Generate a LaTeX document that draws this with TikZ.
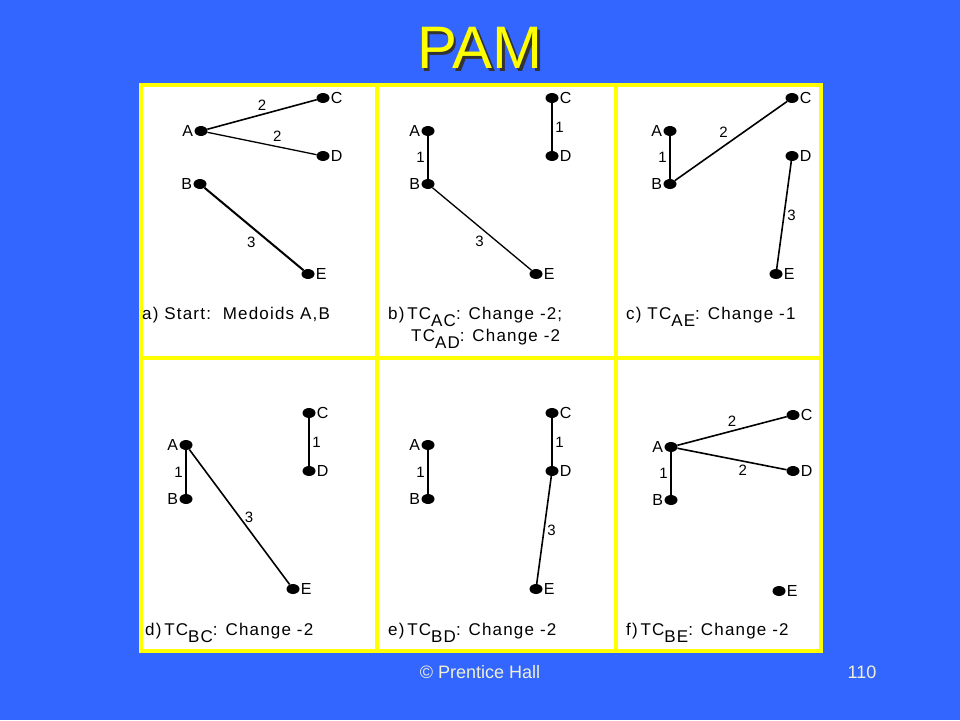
\documentclass[tikz,border=0pt]{standalone}
\usepackage{fontspec}
\setmainfont{Liberation Sans}
\newfontfamily\capfont[LetterSpace=7]{Liberation Sans}
\usetikzlibrary{positioning,shapes.geometric}
\definecolor{slidebg}{RGB}{51,102,255}
\definecolor{pamyel}{RGB}{255,255,0}
\definecolor{footc}{RGB}{240,240,215}
\newcommand{\subtc}[1]{\raisebox{-0.8ex}{#1}}

\begin{document}
\begin{tikzpicture}[x=1pt,y=-1pt,every label/.append style={font=\fontsize{16}{18}\selectfont,inner sep=1pt}]
\tikzstyle{pt}=[ellipse,fill=black,minimum width=13pt,minimum height=10pt,inner sep=0pt,label distance=5pt];
\tikzstyle{edge}=[line width=1.6pt,black];
\tikzstyle{wt}=[font=\fontsize{15}{17}\selectfont,inner sep=2.5pt];
\tikzstyle{capt}=[anchor=base west,font=\capfont\fontsize{17}{21}\selectfont,inner sep=0pt];
\tikzstyle{ttl}=[font=\fontsize{60}{70}\selectfont,text=pamyel];
\tikzstyle{foot}=[font=\fontsize{18}{21}\selectfont,text=footc];

% slide
\fill[slidebg] (0,0) rectangle (960,720);
\node[ttl,text=black!80] at (482.5,50.5) {PAM};
\node[ttl] (title) at (480,48) {PAM};
\node[foot] (copy) at (480,672) {© Prentice Hall};
\node[foot] (pgno) at (862,672) {110};

% panels
\fill[white] (141,85) rectangle (821,651);
\draw[pamyel,line width=4pt] (141,85) rectangle (821,651);
\foreach \x in {377,616}
  \draw[pamyel,line width=4pt] (\x,85) -- (\x,651);
\draw[pamyel,line width=4pt] (141,358) -- (821,358);

% a) start
\node[pt,label=left:A] (aA) at (201,131) {};
\node[pt,label=left:B] (aB) at (200,184) {};
\node[pt,label=right:C] (aC) at (323,98) {};
\node[pt,label=right:D] (aD) at (323,156) {};
\node[pt,label=right:E] (aE) at (308,274) {};
\draw[edge] (aA) -- node[wt,above=1pt] {2} (aC);
\draw[edge,line width=1.3pt] (aA) -- node[wt,pos=0.64,above=2pt] {2} (aD);
\draw[edge,line width=2pt] (aB) -- node[wt,pos=0.55,below left] {3} (aE);
\node[capt] (capa) at (142,319) {a) Start:\ \ Medoids A,B};

% b) TC_AC, TC_AD
\node[pt,label=left:A] (bA) at (428,131) {};
\node[pt,label=left:B] (bB) at (428,184) {};
\node[pt,label=right:C] (bC) at (552,98) {};
\node[pt,label=right:D] (bD) at (552,156) {};
\node[pt,label=right:E] (bE) at (536,274) {};
\draw[edge] (bA) -- node[wt,left] {1} (bB);
\draw[edge] (bC) -- node[wt,right] {1} (bD);
\draw[edge,line width=1.3pt] (bB) -- node[wt,pos=0.55,below left] {3} (bE);
\node[capt] (capb) at (388,319) {b)\,TC\subtc{AC}: Change -2;};
\node[capt] (capb2) at (411,341) {TC\subtc{AD}: Change -2};

% c) TC_AE
\node[pt,label=left:A] (cA) at (670,131) {};
\node[pt,label=left:B] (cB) at (670,184) {};
\node[pt,label=right:C] (cC) at (792,98) {};
\node[pt,label=right:D] (cD) at (792,156) {};
\node[pt,label=right:E] (cE) at (776,274) {};
\draw[edge] (cA) -- node[wt,left] {1} (cB);
\draw[edge] (cB) -- node[wt,above left] {2} (cC);
\draw[edge] (cD) -- node[wt,right] {3} (cE);
\node[capt] (capc) at (626,319) {c) TC\subtc{AE}: Change -1};

% d) TC_BC
\node[pt,label=left:A] (dA) at (186,445) {};
\node[pt,label=left:B] (dB) at (186,499) {};
\node[pt,label=right:C] (dC) at (309,413) {};
\node[pt,label=right:D] (dD) at (309,471) {};
\node[pt,label=right:E] (dE) at (293,589) {};
\draw[edge] (dA) -- node[wt,left] {1} (dB);
\draw[edge] (dC) -- node[wt,right] {1} (dD);
\draw[edge] (dA) -- node[wt,right=2pt] {3} (dE);
\node[capt] (capd) at (145,635) {d)\,TC\subtc{BC}: Change -2};

% e) TC_BD
\node[pt,label=left:A] (eA) at (428,445) {};
\node[pt,label=left:B] (eB) at (428,499) {};
\node[pt,label=right:C] (eC) at (552,413) {};
\node[pt,label=right:D] (eD) at (552,471) {};
\node[pt,label=right:E] (eE) at (536,589) {};
\draw[edge] (eA) -- node[wt,left] {1} (eB);
\draw[edge] (eC) -- node[wt,right] {1} (eD);
\draw[edge] (eD) -- node[wt,right] {3} (eE);
\node[capt] (cape) at (388,635) {e)\,TC\subtc{BD}: Change -2};

% f) TC_BE
\node[pt,label=left:A] (fA) at (671,447) {};
\node[pt,label=left:B] (fB) at (671,500) {};
\node[pt,label=right:C] (fC) at (793,415) {};
\node[pt,label=right:D] (fD) at (793,471) {};
\node[pt,label=right:E] (fE) at (779,591) {};
\draw[edge] (fA) -- node[wt,left] {1} (fB);
\draw[edge] (fA) -- node[wt,above=1pt] {2} (fC);
\draw[edge] (fA) -- node[wt,pos=0.6,below=1pt] {2} (fD);
\node[capt] (capf) at (626,635) {f)\,TC\subtc{BE}: Change -2};

\end{tikzpicture}
\end{document}
